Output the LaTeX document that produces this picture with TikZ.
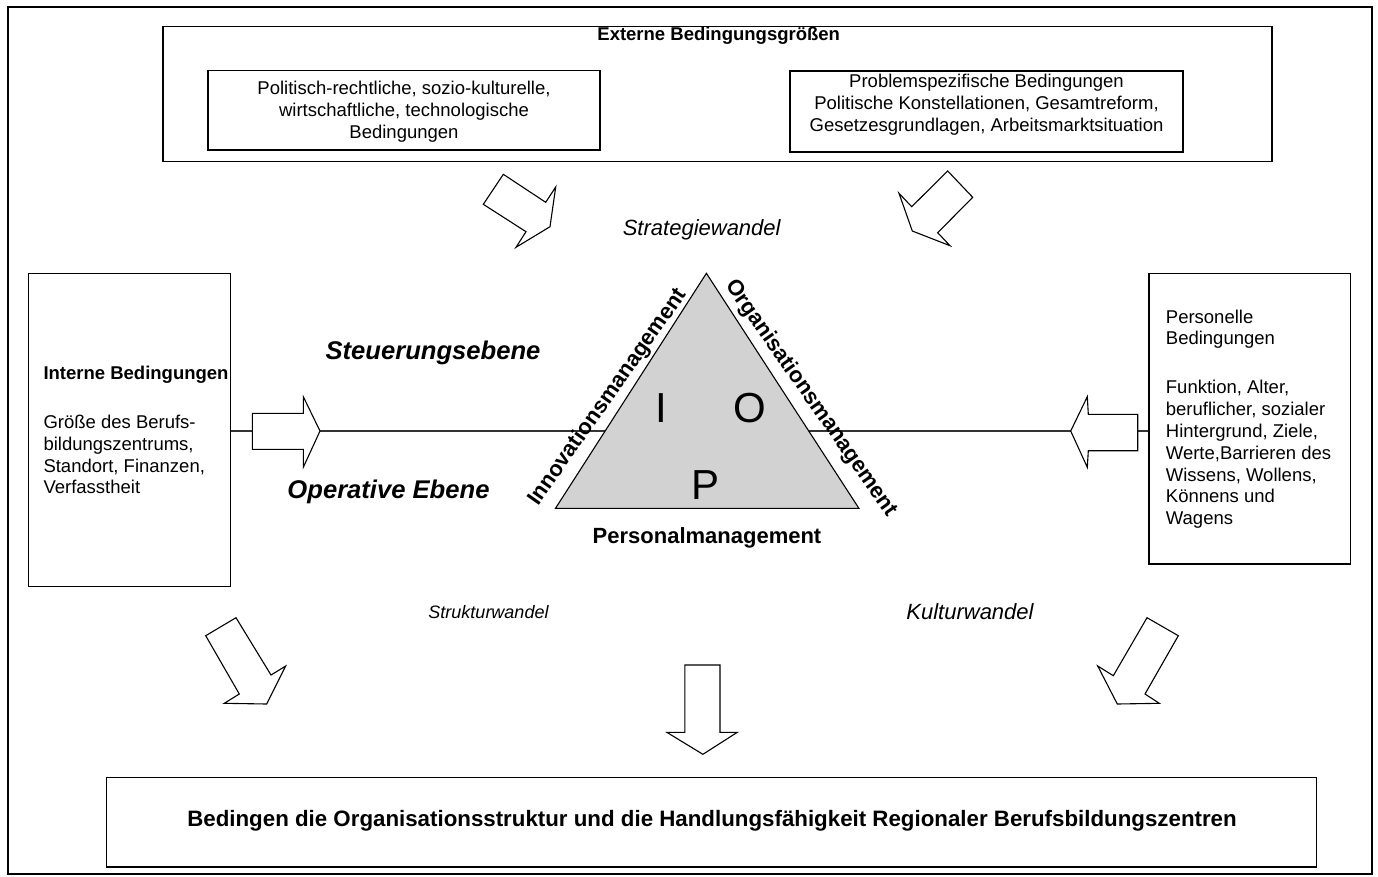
\documentclass[tikz,border=0pt]{standalone}
\usepackage{fontspec}
\setmainfont{Liberation Sans}
\definecolor{trifill}{RGB}{210,210,210}
\begin{document}
\begin{tikzpicture}[x=1pt,y=-1pt,
  box/.style={draw=black,line width=1.1pt,inner sep=0pt,fill=white},
  txt/.style={inner sep=0pt,font=\fontsize{18.5}{21.8}\selectfont},
  blockarrow/.style={draw=black,line width=1.1pt,fill=white,line join=miter},
  conn/.style={draw=black!80,line width=1.1pt},
  lvl/.style={inner sep=0pt,font=\fontsize{25.6}{30}\selectfont\bfseries\itshape},
  change/.style={inner sep=0pt,font=\fontsize{22}{26}\selectfont\itshape},
  side/.style={inner sep=0pt,font=\fontsize{22}{26}\selectfont\bfseries},
  letter/.style={inner sep=0pt,font=\fontsize{42}{48}\selectfont}]
\useasboundingbox (0,0) rectangle (1378,876);
% outer frame
\draw[line width=2.2pt] (8,7) rectangle (1372,874);

% external conditions
\node[box,minimum width=1109pt,minimum height=135pt] (ext) at (717.5,94.2) {};
\node[txt,font=\fontsize{18.5}{21.8}\selectfont\bfseries] (extT) at (718.7,35.5) {Externe Bedingungsgrößen};
\node[box,minimum width=392pt,minimum height=79.3pt] (extL) at (404,110.35) {};
\node[txt,align=center] (extLT) at (404,111.7) {Politisch-rechtliche, sozio-kulturelle,\\wirtschaftliche, technologische\\Bedingungen};
\node[box,minimum width=393pt,minimum height=81pt] (extR) at (986.5,111.5) {};
\node[txt,align=center] (extRT) at (986.5,105) {Problemspezifische Bedingungen\\Politische Konstellationen, Gesamtreform,\\Gesetzesgrundlagen, Arbeitsmarktsituation};

% arrows from the external conditions
\draw[blockarrow] (503.3,174.3) -- (545.7,202.3) -- (555.7,187) -- (550,226.7) -- (516,247.3) -- (526,231.7) -- (483.3,204.3) -- cycle;
\draw[blockarrow] (947.7,171) -- (972.7,197.3) -- (937.7,232.7) -- (950,245.7) -- (912.3,231) -- (899,193.3) -- (911.7,206.7) -- cycle;
\node[change] (strat) at (701.7,230) {Strategiewandel};

% internal and personal conditions
\node[box,minimum width=202.4pt,minimum height=313.4pt] (intern) at (129.5,430) {};
\node[txt,anchor=west,font=\fontsize{18.5}{21.8}\selectfont\bfseries] (internT) at (43.3,375) {Interne Bedingungen};
\node[txt,anchor=west,align=left] (internB) at (43.3,454.5) {Größe des Berufs-\\bildungszentrums,\\Standort, Finanzen,\\Verfasstheit};

\node[box,minimum width=201.7pt,minimum height=290.7pt] (person) at (1249.85,418.65) {};
\node[txt,anchor=west,align=left] (personT) at (1165.7,329.2) {Personelle\\Bedingungen};
\node[txt,anchor=west,align=left] (personB) at (1165.7,454.5) {Funktion, Alter,\\beruflicher, sozialer\\Hintergrund, Ziele,\\Werte,Barrieren des\\Wissens, Wollens,\\Könnens und\\Wagens};

% level line between the two sides
\coordinate (lshaft) at (252.3,431);
\coordinate (ltip) at (320,431);
\coordinate (rtip) at (1070.7,431);
\coordinate (rshaft) at (1137.7,431);
\draw[conn] (intern.east |- lshaft) -- (lshaft);
\draw[conn] (ltip) -- (rtip);
\draw[conn] (rshaft) -- (person.west |- rshaft);
\draw[blockarrow] (252.3,413.3) -- (303.3,413.3) -- (303.3,396.7) -- (ltip) -- (303.3,467.3) -- (303.3,449.3) -- (252.3,449.3) -- cycle;
\draw[blockarrow] (1137.7,414.3) -- (1088.3,414.3) -- (1087.3,396.7) -- (rtip) -- (1087.3,467.3) -- (1088.3,450.7) -- (1137.7,450.7) -- cycle;

\node[lvl] (steuer) at (433,353) {Steuerungsebene};
\node[lvl] (oper) at (388.5,492) {Operative Ebene};

% management triangle
\coordinate (tA) at (706.4,273.3);
\coordinate (tB) at (555.5,508.3);
\coordinate (tC) at (858.9,508.3);
\draw[line width=1.1pt,fill=trifill,line join=miter] (tA) -- (tB) -- (tC) -- cycle;
\node[letter] (lI) at (661.6,408.3) {I};
\node[letter] (lO) at (749.7,408.3) {O};
\node[letter] (lP) at (705.7,485) {P};
\node[side,rotate=55] (innov) at (608,397) {Innovationsmanagement};
\node[side,rotate=-55] (orga) at (811,398.3) {Organisationsmanagement};
\node[side] (pers) at (707,538) {Personalmanagement};

% changes and arrows to the result
\node[change,font=\fontsize{18}{22}\selectfont\itshape] (struk) at (488.5,611.7) {Strukturwandel};
\node[change] (kultur) at (970,611.7) {Kulturwandel};
\draw[blockarrow] (236,617.7) -- (271,675) -- (285.7,666) -- (266.7,704) -- (224.3,703.3) -- (239.3,694) -- (205.7,635.7) -- cycle;
\draw[blockarrow] (1147,617.7) -- (1178.3,635.7) -- (1145,694) -- (1159.3,703.3) -- (1117.3,704) -- (1097.7,666) -- (1113.3,675.7) -- cycle;
\draw[blockarrow] (684.8,665) -- (720,665) -- (720,732.3) -- (737.3,732.3) -- (702.9,754.3) -- (666.8,732.3) -- (684.8,732.3) -- cycle;

% result
\node[box,minimum width=1210.1pt,minimum height=89.7pt] (result) at (711.75,822.15) {};
\node[txt,font=\fontsize{22.3}{26}\selectfont\bfseries] (resultT) at (712,821) {Bedingen die Organisationsstruktur und die Handlungsfähigkeit Regionaler Berufsbildungszentren};
\end{tikzpicture}
\end{document}
